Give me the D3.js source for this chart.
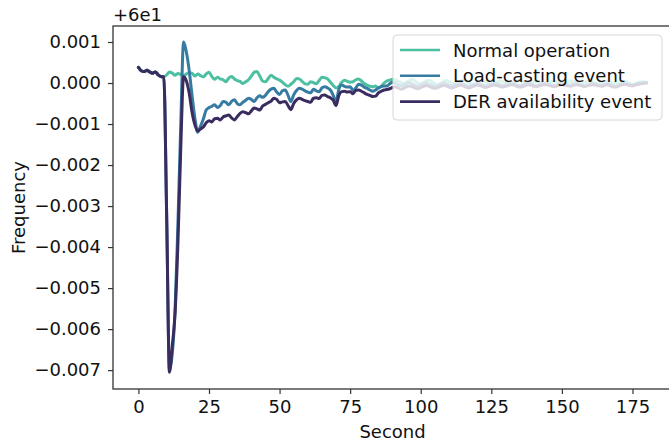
<!DOCTYPE html>
<html lang="en">

<head>
  <meta charset="UTF-8">
  <script src="https://d3js.org/d3.v7.min.js"></script>
  <style>
    html, body {
      padding: 0px;
      margin: 0px;
      background-color: white;
      overflow: hidden;
    }

    svg text {
      font-family: "DejaVu Sans", sans-serif;
      fill: #111;
    }
  </style>
</head>

<body>
  <svg id="plot-svg" height="443" width="669"></svg>

  <script>
    // frequency deviation from 60 Hz, in units of 0.001 Hz, one value per second (0..180)
    const normalOp = [
      0.38, 0.30, 0.28, 0.31, 0.27, 0.24, 0.27, 0.20, 0.16, 0.15,
      0.20, 0.27, 0.24, 0.19, 0.23, 0.21, 0.18, 0.22, 0.25, 0.24,
      0.17, 0.22, 0.18, 0.15, 0.22, 0.26, 0.16, 0.09, 0.14, 0.10,
      0.08, 0.03, 0.12, 0.16, 0.10, 0.06, 0.04, -0.01, 0.03, 0.08,
      0.17, 0.26, 0.28, 0.17, 0.05, 0.03, 0.11, 0.19, 0.14, 0.10,
      0.07, 0.02, -0.04, -0.08, -0.03, 0.03, 0.11, 0.10, 0.04, -0.02,
      -0.03, 0.03, 0.01, -0.02, 0.06, 0.14, 0.13, 0.10, 0.02, -0.06,
      -0.12, -0.08, 0.02, 0.07, 0.04, 0.02, 0.03, 0.08, 0.10, 0.05,
      -0.01, -0.05, -0.08, -0.09, -0.07, -0.12, -0.08, 0.00, 0.05, 0.07,
      0.09,
      0.08, 0.05, 0.01, -0.02, 0.02, 0.06, 0.09, 0.05, 0.00, -0.03,
      0.01, 0.05, 0.07, 0.03, -0.02, -0.05, -0.02, 0.03, 0.06, 0.04,
      0.00, -0.03, -0.01, 0.04, 0.07, 0.05, 0.01, -0.02, -0.04, 0.00,
      0.04, 0.06, 0.03, -0.01, -0.04, -0.02, 0.02, 0.05, 0.04, 0.01,
      -0.02, -0.03, 0.01, 0.04, 0.06, 0.03, -0.01, -0.03, 0.00, 0.03,
      0.05, 0.02, -0.02, -0.04, -0.01, 0.03, 0.05, 0.04, 0.00, -0.03,
      -0.02, 0.02, 0.04, 0.03, 0.00, -0.02, -0.03, 0.01, 0.04, 0.05,
      0.02, -0.01, -0.03, -0.01, 0.02, 0.04, 0.03, 0.00, -0.02, -0.01,
      0.02, 0.04, 0.02, -0.01, -0.04, -0.02, 0.01, 0.03, 0.02, 0.01
    ];

    const loadCasting = [
      0.38, 0.30, 0.28, 0.31, 0.27, 0.24, 0.27, 0.20, 0.16, 0.15,
      -3.2, -7.0, -6.6, -5.5, -3.4, -1.0, 1.0, 0.75, 0.30, -0.30,
      -0.85, -1.20, -1.05, -0.88, -0.66, -0.60, -0.57, -0.53, -0.60, -0.55,
      -0.45, -0.47, -0.53, -0.45, -0.41, -0.50, -0.53, -0.47, -0.42, -0.37,
      -0.40, -0.45, -0.36, -0.31, -0.35, -0.30, -0.21, -0.15, -0.13, -0.22,
      -0.28, -0.19, -0.17, -0.30, -0.45, -0.29, -0.18, -0.13, -0.15, -0.19,
      -0.22, -0.24, -0.15, -0.19, -0.21, -0.12, -0.09, -0.12, -0.17, -0.30,
      -0.45, -0.15, -0.05, -0.08, -0.10, -0.09, -0.18, -0.12, -0.03, -0.05,
      -0.10, -0.13, -0.17, -0.20, -0.17, -0.12, -0.09, -0.07, -0.07, -0.02,
      0.02,
      0.00, -0.04, -0.07, -0.05, -0.01, 0.01, -0.02, -0.06, -0.08, -0.05,
      -0.02, 0.00, -0.03, -0.06, -0.09, -0.06, -0.02, 0.00, -0.02, -0.05,
      -0.07, -0.04, -0.01, 0.01, -0.02, -0.05, -0.08, -0.06, -0.03, -0.01,
      -0.02, -0.05, -0.07, -0.05, -0.02, 0.00, -0.01, -0.04, -0.06, -0.04,
      -0.01, 0.01, -0.01, -0.04, -0.06, -0.05, -0.02, 0.00, -0.02, -0.05,
      -0.06, -0.04, -0.01, 0.00, -0.02, -0.04, -0.06, -0.05, -0.02, -0.01,
      -0.02, -0.04, -0.05, -0.03, -0.01, -0.02, -0.05, -0.07, -0.05, -0.02,
      -0.01, -0.03, -0.05, -0.06, -0.04, -0.02, -0.04, -0.08, -0.09, -0.06,
      -0.03, -0.01, -0.02, -0.04, -0.05, -0.03, -0.01, 0.00, 0.01, 0.02
    ];

    const derEvent = [
      0.38, 0.30, 0.28, 0.31, 0.27, 0.24, 0.27, 0.20, 0.16, 0.15,
      -3.2, -7.05, -6.4, -5.6, -3.9, -1.6, 0.15, 0.05, -0.25, -0.72,
      -1.02, -1.17, -1.12, -1.07, -0.97, -0.92, -0.95, -0.87, -0.86, -0.90,
      -0.83, -0.80, -0.78, -0.85, -0.90, -0.82, -0.74, -0.70, -0.72, -0.75,
      -0.68, -0.61, -0.63, -0.66, -0.56, -0.52, -0.48, -0.44, -0.37, -0.40,
      -0.48, -0.46, -0.45, -0.55, -0.65, -0.50, -0.41, -0.37, -0.40, -0.43,
      -0.45, -0.47, -0.37, -0.36, -0.38, -0.30, -0.29, -0.33, -0.36, -0.42,
      -0.55, -0.30, -0.21, -0.20, -0.22, -0.21, -0.26, -0.18, -0.17, -0.20,
      -0.24, -0.28, -0.30, -0.33, -0.32, -0.24, -0.20, -0.17, -0.16, -0.14,
      -0.11,
      -0.09, -0.12, -0.15, -0.13, -0.09, -0.07, -0.09, -0.12, -0.14, -0.11,
      -0.08, -0.06, -0.08, -0.11, -0.13, -0.11, -0.08, -0.06, -0.07, -0.10,
      -0.12, -0.10, -0.07, -0.05, -0.07, -0.10, -0.12, -0.10, -0.07, -0.05,
      -0.06, -0.09, -0.11, -0.09, -0.06, -0.05, -0.06, -0.08, -0.10, -0.08,
      -0.06, -0.04, -0.05, -0.08, -0.10, -0.09, -0.06, -0.04, -0.05, -0.08,
      -0.09, -0.07, -0.05, -0.04, -0.05, -0.07, -0.09, -0.08, -0.05, -0.04,
      -0.05, -0.07, -0.08, -0.06, -0.04, -0.05, -0.07, -0.09, -0.07, -0.05,
      -0.04, -0.05, -0.07, -0.08, -0.06, -0.04, -0.06, -0.09, -0.10, -0.08,
      -0.05, -0.03, -0.04, -0.06, -0.07, -0.05, -0.03, -0.02, -0.01, 0.00
    ];

    const seconds = d3.range(0, 181);
    const seriesNames = ["Normal operation", "Load-casting event", "DER availability event"];
    const seriesColors = ["#4cc0a0", "#357ba2", "#3a2c5f"];
    const xTicks = [0, 25, 50, 75, 100, 125, 150, 175];
    const yTicks = [1, 0, -1, -2, -3, -4, -5, -6, -7];

    const svg = d3.select("#plot-svg");
    const margin = { top: 26, right: -3, bottom: 54, left: 113 };
    const width = +svg.attr("width");
    const height = +svg.attr("height");
    const fontSize = 18;

    // scales (matplotlib-like 5% padding)
    const xScale = d3.scaleLinear().domain([-9, 189]).range([margin.left, width - margin.right]);
    const yScale = d3.scaleLinear().domain([-7.46, 1.39]).range([height - margin.bottom, margin.top]);

    const series = [normalOp, loadCasting, derEvent];

    const line = d3.line()
      .x((d, i) => xScale(seconds[i]))
      .y(d => yScale(d))
      .curve(d3.curveMonotoneX);

    svg.append("g").attr("id", "lines")
      .selectAll("path")
      .data(series)
      .join("path")
      .attr("d", d => line(d))
      .attr("fill", "none")
      .attr("stroke", (d, i) => seriesColors[i])
      .attr("stroke-width", 3)
      .attr("stroke-linejoin", "round")
      .attr("stroke-linecap", "round");

    // axes
    const fmt = d3.format(".3f");
    const bottomAxis = d3.axisBottom(xScale).tickValues(xTicks).tickSize(5).tickPadding(6);
    const leftAxis = d3.axisLeft(yScale).tickValues(yTicks).tickSize(5).tickPadding(7)
      .tickFormat(d => fmt(d / 1000));

    const gx = svg.append("g").attr("transform", `translate(0, ${height - margin.bottom})`).call(bottomAxis);
    const gy = svg.append("g").attr("transform", `translate(${margin.left}, 0)`).call(leftAxis);
    [gx, gy].forEach(g => {
      g.select(".domain").remove();
      g.selectAll(".tick line").attr("stroke", "#333").attr("stroke-width", 1.2);
      g.selectAll(".tick text").attr("font-size", fontSize).attr("fill", "#111")
        .style("font-family", "'DejaVu Sans', sans-serif");
    });

    // frame
    svg.append("rect")
      .attr("x", margin.left)
      .attr("y", margin.top)
      .attr("width", width - margin.right - margin.left)
      .attr("height", height - margin.bottom - margin.top)
      .attr("fill", "none")
      .attr("stroke", "#333")
      .attr("stroke-width", 1.3);

    // offset text and labels
    svg.append("text").attr("x", margin.left).attr("y", 21)
      .attr("font-size", fontSize).text("+6e1");

    svg.append("text")
      .attr("x", (margin.left + width - margin.right) / 2)
      .attr("y", 438)
      .attr("text-anchor", "middle")
      .attr("font-size", fontSize)
      .text("Second");

    svg.append("text")
      .attr("transform", `translate(25, ${(margin.top + height - margin.bottom) / 2}) rotate(-90)`)
      .attr("text-anchor", "middle")
      .attr("font-size", fontSize)
      .text("Frequency");

    // legend
    const legend = svg.append("g").attr("id", "legend").attr("transform", "translate(393, 35)");
    legend.append("rect")
      .attr("width", 269).attr("height", 85)
      .attr("rx", 4)
      .attr("fill", "white").attr("fill-opacity", 0.8)
      .attr("stroke", "#d6d6d6").attr("stroke-width", 1);

    const rows = legend.selectAll("g.row")
      .data(seriesNames)
      .join("g")
      .attr("class", "row")
      .attr("transform", (d, i) => `translate(0, ${15 + i * 25.8})`);
    rows.append("line")
      .attr("x1", 7).attr("x2", 47)
      .attr("stroke", (d, i) => seriesColors[i])
      .attr("stroke-width", 2.6);
    rows.append("text")
      .attr("x", 60).attr("y", 6.5)
      .attr("font-size", fontSize)
      .text(d => d);
  </script>
</body>

</html>
